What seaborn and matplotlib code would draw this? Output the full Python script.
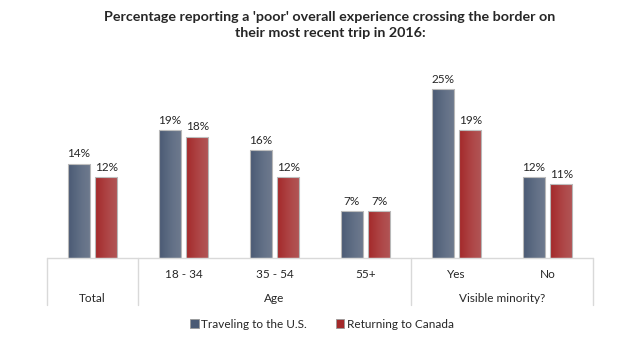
import numpy as np
import pandas as pd
import matplotlib
matplotlib.use("Agg")
import matplotlib.pyplot as plt
import matplotlib.transforms as mtransforms
from matplotlib.patches import Patch
import seaborn as sns

# --- data ---
categories = ["Total", "18 - 34", "35 - 54", "55+", "Yes", "No"]
series_names = ["Traveling to the U.S.", "Returning to Canada"]
us_values = [14, 19, 16, 7, 25, 12]
canada_values = [12, 18, 12, 7, 19, 11]
groups = ["Total", "Age", "Visible minority?"]
group_spans = [(0, 0), (1, 3), (4, 5)]

title = "Percentage reporting a 'poor' overall experience crossing the border on\ntheir most recent trip in 2016:"

colors = ["#4a5a74", "#a3292a"]

sns.set_theme(style="white")
plt.rcParams['font.family'] = ['Lato', 'DejaVu Sans']

df = pd.DataFrame({
    "cat": categories * 2,
    "series": [series_names[0]] * len(categories) + [series_names[1]] * len(categories),
    "value": us_values + canada_values,
})

fig = plt.figure(figsize=(6.39, 3.54), dpi=100)
ax = fig.add_axes([47 / 639, 96 / 354, 546 / 639, 189 / 354])

sns.barplot(data=df, x="cat", y="value", hue="series", order=categories,
            hue_order=series_names, palette=colors, saturation=1, width=0.6, gap=0.2,
            edgecolor="#b8b8b8", linewidth=0.8, legend=False, ax=ax)

ax.set_ylim(0, 28)
ax.set_xlim(-0.5, len(categories) - 0.5)
ax.set_xlabel("")
ax.set_ylabel("")
ax.set_xticks([])
ax.set_yticks([])
for s in ax.spines.values():
    s.set_visible(False)

# light shading on bars: darker toward the right edge
grad = np.linspace(0.0, 1.0, 64).reshape(1, -1)
for bar in ax.patches:
    x0, y0 = bar.get_x(), bar.get_y()
    w, h = bar.get_width(), bar.get_height()
    if h <= 0:
        continue
    im = ax.imshow(grad, extent=[x0, x0 + w, y0, y0 + h], aspect="auto",
                   cmap="Greys", vmin=0, vmax=4, alpha=1.0, zorder=bar.get_zorder() + 0.1)
    im.set_alpha(np.tile(np.linspace(0.0, 0.25, 64), (1, 1)))
    im.set_clip_path(bar)

# value labels
for cont in ax.containers:
    ax.bar_label(cont, labels=[f"{int(v)}%" for v in cont.datavalues],
                 padding=3, fontsize=8.5)

# table-like category axis below the bars
trans = mtransforms.blended_transform_factory(ax.transData, fig.transFigure)
line_col = "#d9d9d9"
base_y = 96 / 354
bottom_y = 49 / 354
fig.add_artist(plt.Line2D([-0.5, len(categories) - 0.5], [base_y, base_y],
                          transform=trans, color=line_col, lw=1))
for xb in [-0.5, 0.5, 3.5, 5.5]:
    fig.add_artist(plt.Line2D([xb, xb], [base_y, bottom_y],
                              transform=trans, color=line_col, lw=1))

for i, c in enumerate(categories):
    if c == "Total":
        continue
    fig.text(i, 1 - 275 / 354, c, transform=trans, ha="center", va="center", fontsize=8.5)
for g, (a, b) in zip(groups, group_spans):
    fig.text((a + b) / 2, 1 - 298 / 354, g, transform=trans, ha="center", va="center", fontsize=8.5)

fig.text(330 / 639, 1 - 25 / 354, title, ha="center", va="center",
         fontsize=10.3, fontweight="bold", linespacing=1.45)

handles = [Patch(facecolor=c, edgecolor="#999999", linewidth=0.6) for c in colors]
fig.legend(handles, series_names, loc="center", bbox_to_anchor=(322 / 639, 1 - 324 / 354),
           ncol=2, frameon=False, fontsize=8.5, handlelength=0.7, handleheight=0.7,
           handletextpad=0.2, columnspacing=2.5)

fig.savefig("out.png", dpi=100)
